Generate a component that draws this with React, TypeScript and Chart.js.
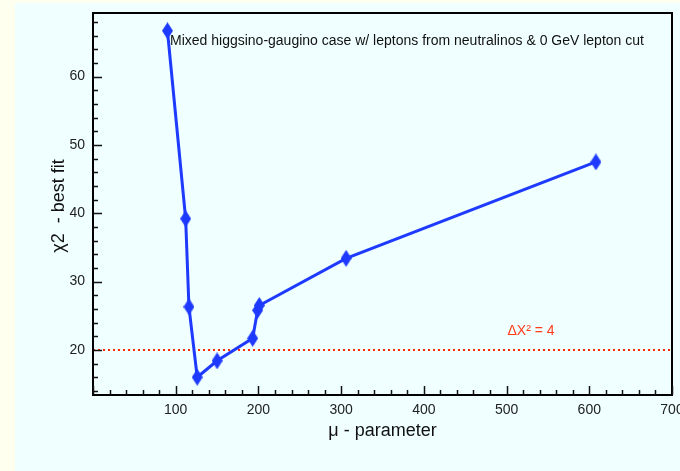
import React, { useEffect, useRef } from "react";
import { Chart, registerables } from "chart.js";

Chart.register(...registerables);

const muValues = [90, 112, 116, 126, 150, 193, 199, 201, 306, 608];
const chi2Values = [66.7, 39.2, 26.3, 16.0, 18.4, 21.7, 25.8, 26.5, 33.4, 47.5];
const xTickValues = [100, 200, 300, 400, 500, 600, 700];
const yTickValues = [20, 30, 40, 50, 60];
const thresholdValue = 20;
const titleText = "Mixed higgsino-gaugino case w/ leptons from neutralinos & 0 GeV lepton cut";
const thresholdLabel = "ΔX² = 4";
const xTitle = "μ - parameter";
const yTitle = "χ2  - best fit";

const FONT = "'Liberation Sans', Arial, Helvetica, sans-serif";

function makeDiamond(): HTMLCanvasElement {
  const c = document.createElement("canvas");
  c.width = 11;
  c.height = 17;
  const g = c.getContext("2d")!;
  g.fillStyle = "#1f3aff";
  g.beginPath();
  g.moveTo(5.5, 0);
  g.lineTo(11, 8.5);
  g.lineTo(5.5, 17);
  g.lineTo(0, 8.5);
  g.closePath();
  g.fill();
  return c;
}

export default function App() {
  const ref = useRef<HTMLCanvasElement | null>(null);
  useEffect(() => {
    document.body.style.margin = "0";
    const canvas = ref.current!;
    const diamond = makeDiamond();

    const bgPlugin = {
      id: "bg",
      beforeDraw(chart: any) {
        const ctx = chart.ctx;
        ctx.save();
        ctx.fillStyle = "#fffff0";
        ctx.fillRect(0, 0, chart.width, chart.height);
        ctx.fillStyle = "#f0ffff";
        ctx.fillRect(15, 3, chart.width - 15, chart.height - 3);
        ctx.restore();
      },
    };

    const decoPlugin = {
      id: "deco",
      beforeDatasetsDraw(chart: any) {
        const ctx = chart.ctx;
        const ys = chart.scales.y;
        const a = chart.chartArea;
        const yv = ys.getPixelForValue(thresholdValue);
        ctx.save();
        ctx.strokeStyle = "#ff2a00";
        ctx.lineWidth = 2;
        ctx.setLineDash([2, 3]);
        ctx.beginPath();
        ctx.moveTo(a.left, yv);
        ctx.lineTo(a.right, yv);
        ctx.stroke();
        ctx.restore();
      },
      afterDraw(chart: any) {
        const ctx = chart.ctx;
        const xs = chart.scales.x;
        const ys = chart.scales.y;
        const a = chart.chartArea;
        ctx.save();
        ctx.strokeStyle = "#000";
        ctx.lineWidth = 2;
        ctx.strokeRect(a.left, a.top, a.right - a.left, a.bottom - a.top);
        ctx.lineWidth = 1.5;
        ctx.strokeStyle = "#111";
        for (let v = 0; v <= 700; v += 20) {
          const px = Math.round(xs.getPixelForValue(v)) + 0.5;
          const len = v % 100 === 0 ? 9 : 5;
          ctx.beginPath();
          ctx.moveTo(px, a.bottom);
          ctx.lineTo(px, a.bottom - len);
          ctx.stroke();
        }
        for (let v = 14; v <= 68; v += 2) {
          const py = Math.round(ys.getPixelForValue(v)) + 0.5;
          const len = v % 10 === 0 ? 9 : 5;
          ctx.beginPath();
          ctx.moveTo(a.left, py);
          ctx.lineTo(a.left + len, py);
          ctx.stroke();
        }
        ctx.fillStyle = "#222";
        ctx.font = `14px ${FONT}`;
        ctx.textAlign = "center";
        ctx.textBaseline = "middle";
        for (const v of xTickValues) {
          ctx.fillText(String(v), xs.getPixelForValue(v), a.bottom + 15);
        }
        ctx.fillStyle = "#111";
        ctx.font = `14px ${FONT}`;
        ctx.textAlign = "left";
        ctx.fillText(titleText, 170, 41);
        ctx.fillStyle = "#ff3b1a";
        ctx.font = `14px ${FONT}`;
        ctx.textAlign = "center";
        ctx.fillText(thresholdLabel, 531, 331);
        ctx.fillStyle = "#111";
        ctx.font = `18px ${FONT}`;
        ctx.fillText(xTitle, (a.left + a.right) / 2, 431);
        ctx.translate(59, 206);
        ctx.rotate(-Math.PI / 2);
        ctx.fillText(yTitle, 0, 0);
        ctx.restore();
      },
    };

    const chart = new Chart(canvas, {
      type: "scatter",
      data: {
        datasets: [
          {
            data: muValues.map((x, i) => ({ x, y: chi2Values[i] })),
            showLine: true,
            borderColor: "#1f3aff",
            borderWidth: 3,
            pointStyle: diamond as any,
            pointRadius: 8,
            tension: 0,
          },
        ],
      },
      options: {
        animation: false,
        responsive: false,
        devicePixelRatio: 1,
        layout: { autoPadding: false, padding: { left: 0, top: 13, right: 8, bottom: 0 } },
        plugins: { legend: { display: false }, tooltip: { enabled: false } },
        scales: {
          x: {
            type: "linear",
            min: 0,
            max: 700,
            grid: { display: false, drawTicks: false },
            border: { display: false },
            afterBuildTicks: (s: any) => {
              s.ticks = xTickValues.map((v) => ({ value: v }));
            },
            afterFit: (s: any) => {
              s.height = 76;
            },
            ticks: { display: false },
          },
          y: {
            type: "linear",
            min: 13.4,
            max: 69.3,
            grid: { display: false, drawTicks: false },
            border: { display: false },
            afterBuildTicks: (s: any) => {
              s.ticks = yTickValues.map((v) => ({ value: v }));
            },
            afterFit: (s: any) => {
              s.width = 93;
              s.paddingTop = 0;
              s.paddingBottom = 0;
            },
            ticks: {
              padding: 8,
              color: "#222",
              font: { family: FONT, size: 14 },
              autoSkip: false,
            },
          },
        },
      },
      plugins: [bgPlugin, decoPlugin],
    });
    return () => chart.destroy();
  }, []);
  return <canvas ref={ref} width={680} height={471} style={{ display: "block" }} />;
}
